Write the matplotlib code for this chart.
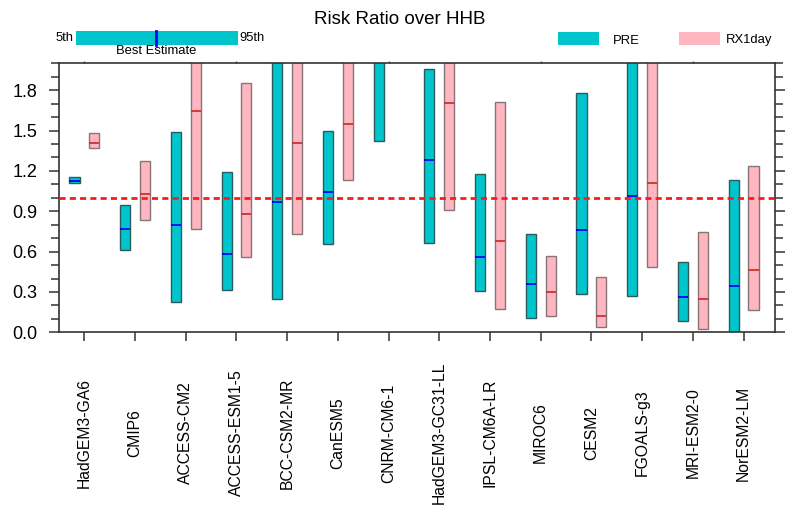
import numpy as np
import matplotlib
matplotlib.use("Agg")
import matplotlib.pyplot as plt
from matplotlib.ticker import MultipleLocator, FixedLocator, NullFormatter
from matplotlib.transforms import blended_transform_factory
from matplotlib.patches import Rectangle
from matplotlib.lines import Line2D

plt.rcParams['font.family'] = ['Liberation Sans', 'DejaVu Sans']

models = ["HadGEM3-GA6", "CMIP6", "ACCESS-CM2", "ACCESS-ESM1-5", "BCC-CSM2-MR",
          "CanESM5", "CNRM-CM6-1", "HadGEM3-GC31-LL", "IPSL-CM6A-LR", "MIROC6",
          "CESM2", "FGOALS-g3", "MRI-ESM2-0", "NorESM2-LM"]

# PRE: 5th percentile, best estimate, 95th percentile
pre_lo   = [1.107, 0.612, 0.223, 0.315, 0.245, 0.659, 1.419, 0.661, 0.305, 0.104, 0.282, 0.270, 0.087, 0.005]
pre_best = [1.124, 0.768, 0.795, 0.580, 0.966, 1.045, 2.300, 1.283, 0.562, 0.362, 0.760, 1.015, 0.263, 0.342]
pre_hi   = [1.152, 0.944, 1.488, 1.194, 2.600, 1.498, 3.200, 1.959, 1.179, 0.728, 1.778, 2.500, 0.523, 1.129]

# RX1day: 5th percentile, best estimate, 95th percentile
rx_lo   = [1.369, 0.837, 0.768, 0.557, 0.731, 1.134, np.nan, 0.909, 0.173, 0.121, 0.042, 0.485, 0.027, 0.163]
rx_best = [1.409, 1.025, 1.649, 0.877, 1.409, 1.545, np.nan, 1.706, 0.676, 0.302, 0.119, 1.112, 0.250, 0.461]
rx_hi   = [1.483, 1.275, 2.400, 1.850, 2.300, 2.100, np.nan, 2.500, 1.709, 0.567, 0.414, 2.300, 0.743, 1.236]

yticks = [0.0, 0.3, 0.6, 0.9, 1.2, 1.5, 1.8]
ytick_labels = ["0.0", "0.3", "0.6", "0.9", "1.2", "1.5", "1.8"]

CYAN = "#00C5CD"
PINK = "#FFB6C1"

W, H = 787, 507
fig = plt.figure(figsize=(W / 100, H / 100), dpi=100)
L, R, T, B = 59, 775, 63.3, 332.3
ax = fig.add_axes([L / W, 1 - B / H, (R - L) / W, (B - T) / H])

x = np.arange(len(models))
off, bw = 0.195, 0.2
pre_lo_a, pre_hi_a = np.array(pre_lo), np.array(pre_hi)
rx_lo_a, rx_hi_a = np.array(rx_lo), np.array(rx_hi)

ax.bar(x - off, pre_hi_a - pre_lo_a, bottom=pre_lo_a, width=bw, color=CYAN,
       edgecolor="#2a5c5e", linewidth=1.0, zorder=2)
ax.bar(x + off, rx_hi_a - rx_lo_a, bottom=rx_lo_a, width=bw, color=PINK,
       edgecolor="#857577", linewidth=1.0, zorder=2)
ax.hlines(pre_best, x - off - bw / 2, x - off + bw / 2, color="#0000FF", lw=1.3, zorder=3)
ax.hlines(rx_best, x + off - bw / 2, x + off + bw / 2, color="#D03030", lw=1.3, zorder=3)

ax.axhline(1.0, color="#FF1A1A", lw=2.0, ls=(0, (2.2, 1.5)), zorder=4)

ax.set_xlim(-0.5, 13.62)
ax.set_ylim(0, 2.0)

ax.set_yticks(yticks)
ax.set_yticklabels(ytick_labels, fontsize=13)
ax.yaxis.set_minor_locator(MultipleLocator(0.1))
ax.tick_params(axis='y', which='major', direction='out', length=7.2, width=1.1,
               left=True, right=True, pad=8.5, color="#333333")
ax.tick_params(axis='y', which='minor', direction='out', length=5.5, width=1.1,
               left=True, right=True, color="#333333")

ax.set_xticks(x)
ax.set_xticklabels([])
ax.tick_params(axis='x', which='major', direction='out', length=6.5, width=1.1,
               bottom=True, top=False, color="#333333")

sec = ax.secondary_xaxis('top')
sec.set_xticks([0, 3, 6, 9, 12])
sec.xaxis.set_major_formatter(NullFormatter())
sec.tick_params(axis='x', direction='out', length=1.8, width=1.0, color="#555555")
sec.spines['top'].set_visible(False)

for s in ax.spines.values():
    s.set_linewidth(1.2)
    s.set_color("#333333")

trans = blended_transform_factory(ax.transData, ax.transAxes)
for i, m in enumerate(models):
    ax.text(i, (B - 433) / (B - T), m, transform=trans, rotation=90,
            ha='center', va='center', fontsize=11.3)

# Title
fig.text(399.6 / W, 1 - 19 / H, "Risk Ratio over HHB", ha='center', va='center', fontsize=13.5)

# Top-left percentile legend
fig.patches.append(Rectangle((75.7 / W, 1 - 45 / H), (238 - 75.7) / W, 14 / H,
                             transform=fig.transFigure, facecolor=CYAN, edgecolor='none'))
fig.lines.append(Line2D([156.3 / W, 156.3 / W], [1 - 45 / H, 1 - 31 / H],
                        transform=fig.transFigure, color="#0000FF", lw=2.0))
fig.text(74 / W, 1 - 38 / H, "5th", ha='right', va='center', fontsize=9.4)
fig.text(239 / W, 1 - 38 / H, "95th", ha='left', va='center', fontsize=9.4)
fig.text(156.3 / W, 1 - 50.5 / H, "Best Estimate", ha='center', va='center', fontsize=9.4)

# Series legend
fig.patches.append(Rectangle((558.3 / W, 1 - 45 / H), 41 / W, 13.3 / H,
                             transform=fig.transFigure, facecolor=CYAN, edgecolor='none'))
fig.text(613.3 / W, 1 - 40.5 / H, "PRE", ha='left', va='center', fontsize=9.4)
fig.patches.append(Rectangle((679.3 / W, 1 - 45 / H), 41 / W, 13.3 / H,
                             transform=fig.transFigure, facecolor=PINK, edgecolor='none'))
fig.text(725.7 / W, 1 - 39.5 / H, "RX1day", ha='left', va='center', fontsize=9.4)

fig.savefig("out.png", dpi=100)
